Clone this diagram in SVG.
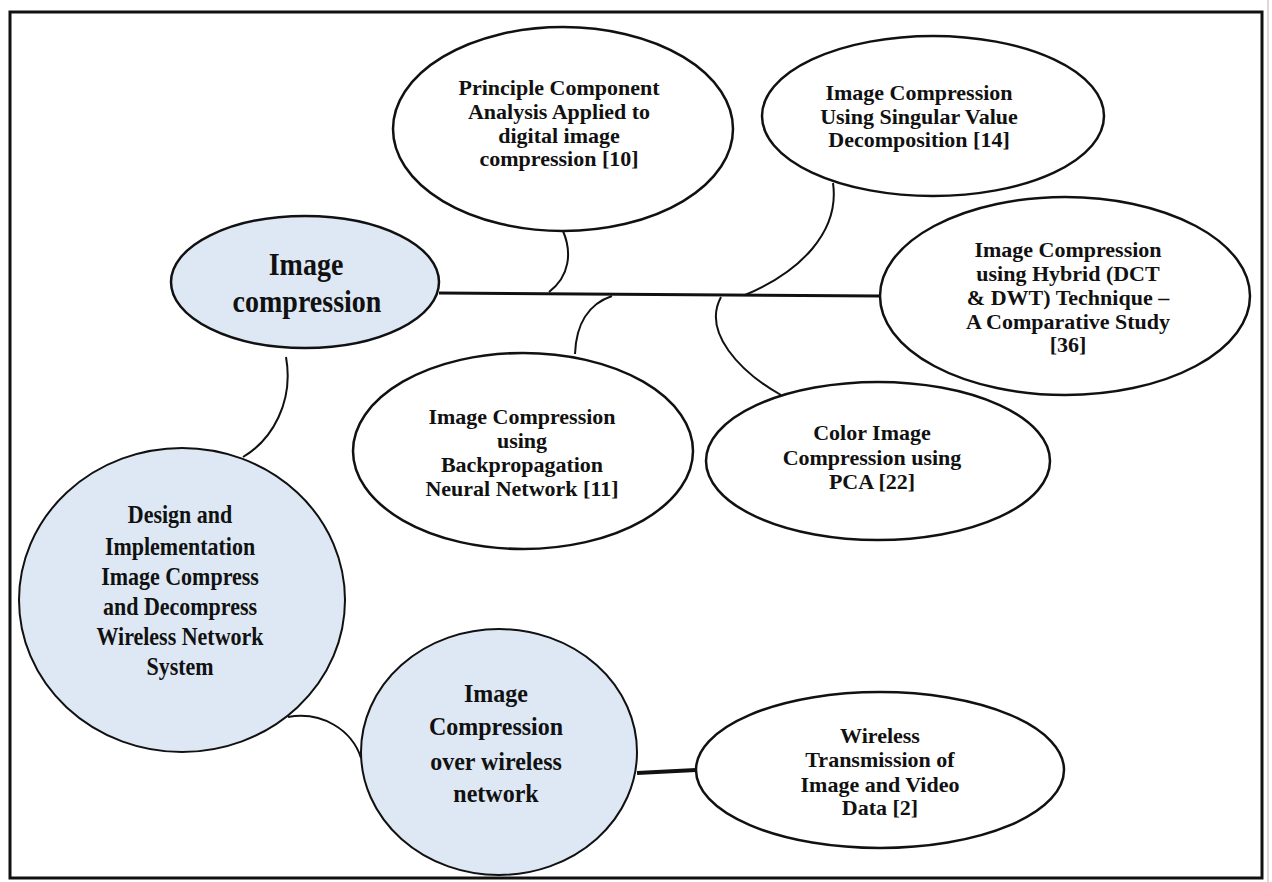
<svg xmlns="http://www.w3.org/2000/svg" width="1272" height="882" viewBox="0 0 1272 882">
<style>
.n{fill:#fff;stroke:#111;stroke-width:2.5}
.b{fill:#dde8f4;stroke:#111;stroke-width:2.5}
.t{font-family:"Liberation Serif","Times New Roman",serif;font-weight:bold;font-size:22px;fill:#111;text-anchor:middle}
.c{fill:none;stroke:#111;stroke-width:2}
</style>
<rect x="0" y="0" width="1272" height="882" fill="#fff"/>
<line x1="1268" y1="0" x2="1268" y2="882" stroke="#ccc" stroke-width="1.5"/>
<rect x="10" y="12" width="1252" height="866" fill="none" stroke="#111" stroke-width="3"/>
<g id="connectors">
<line x1="439" y1="293" x2="880" y2="296" stroke="#111" stroke-width="3"/>
<path class="c" d="M563,231 C572,252 570,276 549,292"/>
<path class="c" d="M833,183 C840,232 800,272 745,295"/>
<path class="c" d="M721,297 C702,332 740,372 781,395"/>
<path class="c" d="M612,296 C588,304 576,325 575,354"/>
<path class="c" d="M286,357 C294,402 272,440 243,457"/>
<path class="c" d="M288,717 C322,711 352,730 361,758" stroke-width="3"/>
<line x1="637" y1="773" x2="696" y2="770" stroke="#111" stroke-width="4"/>
</g>
<g id="node-image-compression">
<ellipse class="b" cx="305" cy="282" rx="134" ry="66"/>
<text class="t" style="font-size:28px" transform="translate(306,275) scale(1,1.12)">Image</text>
<text class="t" style="font-size:28px" transform="translate(307,312) scale(1,1.12)">compression</text>
</g>
<g id="node-pca">
<ellipse class="n" cx="563" cy="129" rx="170" ry="102"/>
<text class="t" x="559" y="95">Principle Component</text>
<text class="t" x="559" y="119">Analysis Applied to</text>
<text class="t" x="559" y="143">digital image</text>
<text class="t" x="559" y="166">compression [10]</text>
</g>
<g id="node-svd">
<ellipse class="n" cx="933" cy="116" rx="171" ry="80"/>
<text class="t" x="919" y="100">Image Compression</text>
<text class="t" x="919" y="124">Using Singular Value</text>
<text class="t" x="919" y="147">Decomposition [14]</text>
</g>
<g id="node-hybrid">
<ellipse class="n" cx="1065" cy="296" rx="185" ry="99"/>
<text class="t" x="1068" y="257">Image Compression</text>
<text class="t" x="1068" y="281">using Hybrid (DCT</text>
<text class="t" x="1068" y="305">&amp; DWT) Technique –</text>
<text class="t" x="1068" y="329">A Comparative Study</text>
<text class="t" x="1068" y="352">[36]</text>
</g>
<g id="node-backprop">
<ellipse class="n" cx="523" cy="451" rx="170" ry="98"/>
<text class="t" x="522" y="424">Image Compression</text>
<text class="t" x="522" y="448">using</text>
<text class="t" x="522" y="472">Backpropagation</text>
<text class="t" x="522" y="496">Neural Network [11]</text>
</g>
<g id="node-color-pca">
<ellipse class="n" cx="878" cy="461" rx="172" ry="79"/>
<text class="t" x="872" y="440">Color Image</text>
<text class="t" x="872" y="465">Compression using</text>
<text class="t" x="872" y="489">PCA [22]</text>
</g>
<g id="node-design">
<ellipse class="b" cx="182" cy="600" rx="163" ry="152" style="stroke-width:2"/>
<text class="t" transform="translate(180,523) scale(1,1.18)">Design and</text>
<text class="t" transform="translate(180,555) scale(1,1.18)">Implementation</text>
<text class="t" transform="translate(180,585) scale(1,1.18)">Image Compress</text>
<text class="t" transform="translate(180,615) scale(1,1.18)">and Decompress</text>
<text class="t" transform="translate(180,645) scale(1,1.18)">Wireless Network</text>
<text class="t" transform="translate(180,675) scale(1,1.18)">System</text>
</g>
<g id="node-wireless">
<ellipse class="b" cx="499" cy="752" rx="138" ry="123" style="stroke-width:2"/>
<text class="t" style="font-size:24px" transform="translate(496,702) scale(1,1.08)">Image</text>
<text class="t" style="font-size:24px" transform="translate(496,735) scale(1,1.08)">Compression</text>
<text class="t" style="font-size:24px" transform="translate(496,770) scale(1,1.08)">over wireless</text>
<text class="t" style="font-size:24px" transform="translate(496,802) scale(1,1.08)">network</text>
</g>
<g id="node-transmission">
<ellipse class="n" cx="880" cy="770" rx="184" ry="78"/>
<text class="t" x="880" y="743">Wireless</text>
<text class="t" x="880" y="767">Transmission of</text>
<text class="t" x="880" y="792">Image and Video</text>
<text class="t" x="880" y="815">Data [2]</text>
</g>
</svg>
